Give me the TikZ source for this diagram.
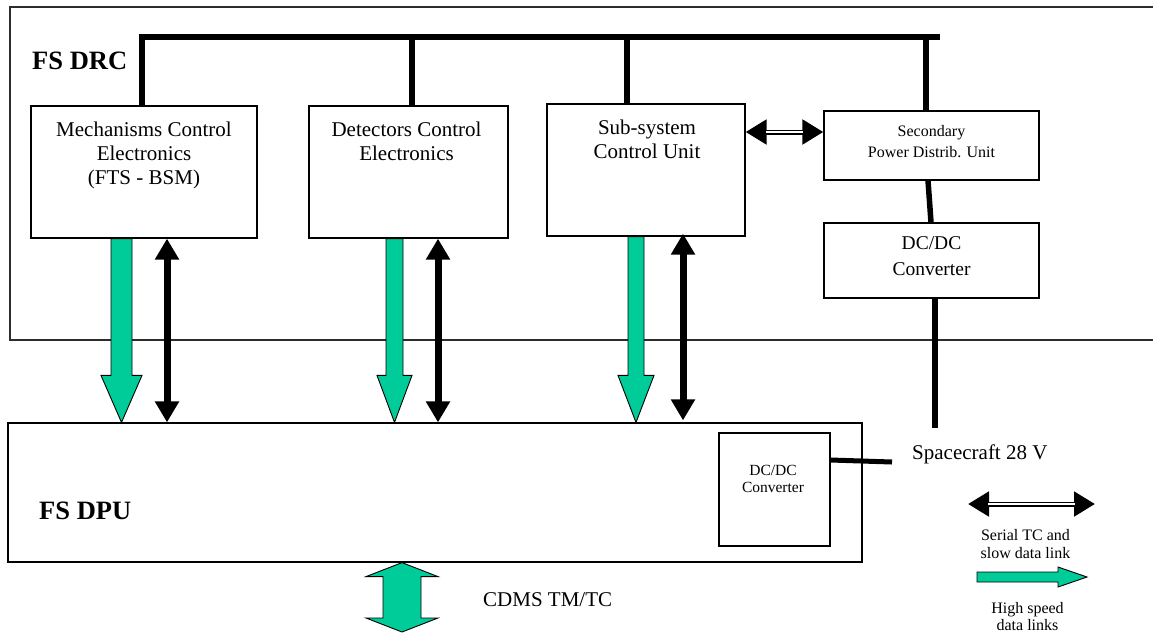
\documentclass[tikz,border=0pt]{standalone}
\usepackage{fontspec}
\setmainfont{Liberation Serif}
\usetikzlibrary{arrows.meta,calc}
\definecolor{hsgreen}{RGB}{0,204,153}
\definecolor{framegray}{RGB}{45,45,45}
\newcommand\setfs[2]{\fontsize{#1}{#2}\selectfont}

% green block arrow pointing down: x coordinate, start anchor, end anchor,
% half shaft width, half head width
\newcommand\fastdown[5]{%
  \path[fast] let \p1=(#1 |- #2), \p2=(#1 |- #3) in
    ({\x1-#4pt},\y1) -- ({\x1-#4pt},{\y2+47pt}) -- ({\x1-#5pt},{\y2+47pt}) -- (\x2,\y2)
    -- ({\x1+#5pt},{\y2+47pt}) -- ({\x1+#4pt},{\y2+47pt}) -- ({\x1+#4pt},\y1) -- cycle;}

% serial link: double line between two triangle heads
\newcommand\slowlink[2]{%
  \draw[slowdbl] (#1) -- (#2);
  \draw[white, line width=2.2pt, shorten <=20pt, shorten >=20pt] (#1) -- (#2);}

\tikzset{
  box/.style={draw=black, line width=1.2pt, inner sep=0pt, fill=white},
  lbl/.style={inner sep=0pt, align=center},
  title/.style={inner sep=0pt, anchor=base west, font=\setfs{26.5}{30}\bfseries},
  bus/.style={line width=6pt, line cap=butt, line join=miter},
  power/.style={line width=5.5pt, line cap=butt},
  slow/.style={line width=7pt,
    {Triangle[length=21pt,width=23pt]}-{Triangle[length=21pt,width=23pt]}},
  slowdbl/.style={line width=5pt,
    {Triangle[length=21pt,width=24pt]}-{Triangle[length=21pt,width=24pt]}},
  fast/.style={fill=hsgreen, draw=black, line width=0.9pt, line join=miter},
}

\begin{document}
\begin{tikzpicture}[x=1pt,y=-1pt]
\useasboundingbox (0,0) rectangle (1153,633);
\clip (0,0) rectangle (1153,633);

% FS DRC frame
\node[draw=framegray, line width=1.5pt, minimum width=1160pt, minimum height=333pt,
      inner sep=0pt] (drc) at (590,173.5) {};
\node[title] (drct) at (32,69) {FS DRC};

% units inside the DRC
\node[box, minimum width=226pt, minimum height=132pt] (mce) at (144,172) {};
\node[box, minimum width=199pt, minimum height=132pt] (dce) at (408.5,172) {};
\node[box, minimum width=198pt, minimum height=132pt] (scu) at (646,170) {};
\node[box, minimum width=215pt, minimum height=69pt] (spdu) at (931.5,145.5) {};
\node[box, minimum width=215pt, minimum height=75pt] (dcdc) at (931.5,260.5) {};

\node[lbl, anchor=north, font=\setfs{21}{24}] (mcet) at ($(mce.north)+(0,16.5)$)
  {Mechanisms Control\\Electronics\\(FTS - BSM)};
\node[lbl, anchor=north, font=\setfs{21}{24}] (dcet) at ($(dce.north)+(-2,16.7)$)
  {Detectors Control\\Electronics};
\node[lbl, anchor=north, font=\setfs{21}{24}] (scut) at ($(scu.north)+(1,16.7)$)
  {Sub-system\\Control Unit};
\node[lbl, anchor=north, font=\setfs{16}{21}] (spdut) at ($(spdu.north)+(0,15.1)$)
  {Secondary\\Power Distrib. Unit};
\node[lbl, anchor=north, font=\setfs{19.5}{26}] (dcdct) at ($(dcdc.north)+(0,13.7)$)
  {DC/DC\\Converter};

% FS DPU
\node[box, fill=none, minimum width=854pt, minimum height=139pt] (dpu) at (435,492.5) {};
\node[title] (dput) at (39,519) {FS DPU};
\node[box, minimum width=111pt, minimum height=113pt] (dcin) at (774.5,489.5) {};
\node[lbl, anchor=north, font=\setfs{15.5}{17.5}] (dcint) at ($(dcin.north)+(-1.5,32.4)$)
  {DC/DC\\Converter};

% control bus
\coordinate (busL) at (142,37);
\coordinate (busR) at (940,37);
\coordinate (tap2) at (412,37);
\coordinate (tap3) at (627,37);
\coordinate (tap4) at (926,37);
\draw[bus] (busL |- mce.north) -- (busL) -- (busR);
\draw[bus] (tap2) -- (tap2 |- dce.north);
\draw[bus] (tap3) -- (tap3 |- scu.north);
\draw[bus] (tap4) -- (tap4 |- spdu.north);

% power chain
\draw[power] ($(spdu.south)+(-3.5,0)$) -- ($(dcdc.north)+(-0.5,0)$);
\coordinate (sc28) at (935,428);
\draw[line width=6pt] (dcdc.south -| sc28) -- (sc28);
\coordinate (dcout) at (892,462);
\draw[line width=5pt] ($(dcin.east)+(0,-29.5)$) -- (dcout);
\node[inner sep=0pt, anchor=base west, font=\setfs{21}{24}] (sctext) at (912,459)
  {Spacecraft 28 V};

% serial links DRC units <-> DPU
\coordinate (b1) at (167,0);
\coordinate (b2) at (438,0);
\coordinate (b3) at (683,0);
\draw[slow] (b1 |- mce.south) -- (b1 |- dpu.north);
\draw[slow] (b2 |- dce.south) -- (b2 |- dpu.north);
\draw[slow] ($(b3 |- scu.south)+(0,-3)$) -- ($(b3 |- dpu.north)+(0,-2)$);

% high speed links DRC units -> DPU
\coordinate (g1) at (121.5,0);
\coordinate (g2) at (394.5,0);
\coordinate (g3) at (636,0);
\fastdown{g1}{mce.south}{dpu.north}{10.5}{20.5}
\fastdown{g2}{dce.south}{dpu.north}{8.5}{17.5}
\fastdown{g3}{scu.south}{dpu.north}{8}{18}

% serial link SCU <-> SPDU
\slowlink{$(scu.east)+(0,-38)$}{$(spdu.west)+(0,-13.5)$}

% CDMS link
\coordinate (cdms) at (402,632);
\path[fast] let \p1=(cdms |- dpu.south), \p2=(cdms) in
  (\x1,\y1) -- ({\x1+36pt},{\y1-14pt}) -- ({\x1+19pt},{\y1-14pt}) -- ({\x1+19pt},{\y2+14pt})
  -- ({\x1+36pt},{\y2+14pt}) -- (\x2,\y2) -- ({\x1-36pt},{\y2+14pt}) -- ({\x1-19pt},{\y2+14pt})
  -- ({\x1-19pt},{\y1-14pt}) -- ({\x1-36pt},{\y1-14pt}) -- cycle;
\node[inner sep=0pt, anchor=base west, font=\setfs{21}{24}] (cdmst) at (483,606)
  {CDMS TM/TC};

% legend
\coordinate (slA) at (968,504);
\coordinate (slB) at (1095,504);
\slowlink{slA}{slB}
\node[lbl, anchor=north, font=\setfs{16}{18}] (slt) at ($(slA)!0.5!(slB)+(-6,25)$)
  {Serial TC and\\slow data link};
\coordinate (hsA) at (977,577);
\coordinate (hsB) at (1087,577);
\path[fast] let \p1=(hsA), \p2=(hsB) in
  (\x1,{\y1+5pt}) -- ({\x2-29pt},{\y1+5pt}) -- ({\x2-29pt},{\y1+10pt}) -- (\x2,\y2)
  -- ({\x2-29pt},{\y1-10pt}) -- ({\x2-29pt},{\y1-5pt}) -- (\x1,{\y1-5pt}) -- cycle;
\node[lbl, anchor=north, font=\setfs{16}{17.5}] (hst) at ($(hsA)!0.5!(hsB)+(-4.5,25)$)
  {High speed\\data links};
\end{tikzpicture}
\end{document}
